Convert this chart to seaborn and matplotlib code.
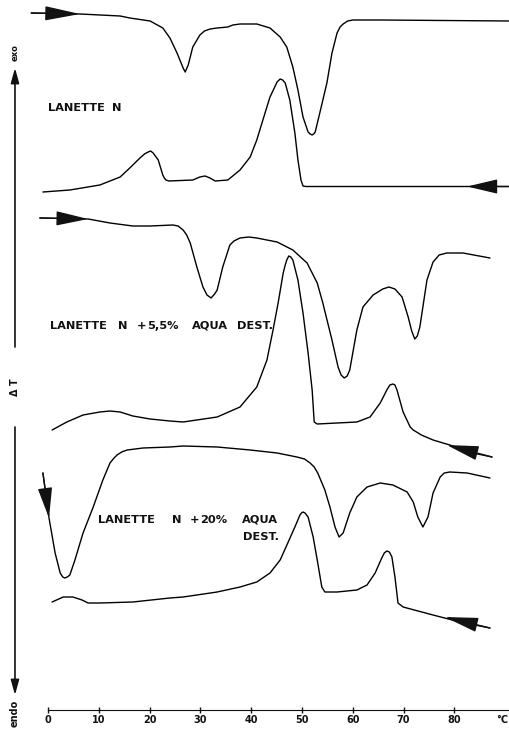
import matplotlib
matplotlib.use("Agg")
import matplotlib.pyplot as plt
import numpy as np
import pandas as pd
import seaborn as sns

# ---------------- data (temperature in degC, DeltaT in arbitrary units) ----------------
heat_n_T = [-3.3, 6.3, 14.2, 16.1, 20.1, 22.6, 24.0, 25.4, 26.6, 27.0, 27.6, 28.5, 29.9, 30.8,
            31.9, 33.3, 35.4, 36.4, 37.8, 41.1, 43.7, 45.7, 47.0, 48.2, 49.2, 50.2, 51.2, 51.6,
            52.0, 52.3, 52.6, 53.5, 54.9, 55.9, 56.9, 57.5, 58.1, 59.0, 60.0, 65.4, 90.7]
heat_n_dT = [71.8, 71.7, 71.5, 71.3, 71.0, 70.3, 69.3, 67.8, 66.3, 65.9, 66.6, 68.4, 69.6, 70.0,
             70.2, 70.3, 70.4, 70.6, 70.7, 70.7, 70.3, 69.4, 68.4, 66.4, 64.1, 61.4, 59.9, 59.7,
             59.6, 59.7, 59.9, 61.8, 64.8, 67.8, 69.8, 70.4, 70.7, 71.0, 71.1, 71.1, 71.0]

cool_n_T = [-1.0, 4.3, 10.2, 14.2, 16.1, 18.1, 19.0, 19.7, 20.2, 20.7, 21.7, 22.6, 22.9, 23.2,
            23.8, 28.5, 29.9, 30.9, 31.9, 32.9, 35.4, 37.8, 39.8, 41.1, 42.3, 43.7, 45.1, 45.5,
            45.7, 46.2, 46.7, 47.6, 48.6, 49.2, 49.8, 50.2, 50.8, 90.7]
cool_n_dT = [53.9, 54.1, 54.6, 55.4, 56.3, 57.3, 57.7, 57.9, 58.0, 57.8, 57.1, 55.6, 55.3, 55.1,
             55.0, 55.1, 55.4, 55.5, 55.3, 55.0, 55.1, 56.1, 57.4, 59.1, 61.1, 63.4, 64.9, 65.1,
             65.2, 65.1, 64.8, 63.1, 59.8, 57.1, 55.1, 54.5, 54.45, 54.45]

heat_55_T = [-1.6, 7.9, 12.2, 16.7, 20.1, 24.6, 25.6, 26.6, 27.3, 28.0, 29.3, 30.5, 31.3, 32.1,
             32.8, 33.3, 34.4, 35.8, 36.6, 37.8, 39.5, 41.1, 45.1, 48.2, 51.0, 53.0, 54.1, 55.9,
             57.1, 57.7, 58.3, 58.9, 59.4, 60.8, 62.0, 64.0, 65.9, 67.1, 68.3, 69.7, 70.9, 71.6,
             72.2, 72.7, 73.2, 74.6, 75.8, 77.0, 78.5, 81.7, 87.0]
heat_55_dT = [51.3, 51.2, 50.8, 50.5, 50.5, 50.6, 50.5, 50.1, 49.6, 48.8, 46.4, 44.4, 43.6, 43.3,
              43.7, 44.1, 46.4, 48.6, 49.0, 49.3, 49.4, 49.3, 48.9, 48.1, 46.8, 44.8, 42.8, 39.1,
              36.4, 35.6, 35.3, 35.5, 36.1, 40.1, 42.4, 43.6, 44.2, 44.4, 44.2, 43.4, 41.4, 40.0,
              39.2, 39.5, 40.4, 45.1, 46.9, 47.6, 47.8, 47.8, 47.3]

cool_55_T = [0.8, 3.7, 6.9, 10.2, 12.2, 14.2, 16.7, 20.1, 24.0, 26.6, 33.3, 37.8, 41.1, 43.1,
             44.3, 45.3, 46.3, 46.7, 47.0, 47.4, 47.8, 48.2, 49.2, 50.2, 51.2, 52.0, 52.4, 53.0,
             56.9, 60.8, 63.4, 65.4, 66.7, 67.3, 67.9, 68.3, 68.7, 69.9, 71.3, 71.9, 73.5, 75.8,
             79.1, 83.7, 87.4]
cool_55_dT = [30.1, 30.9, 31.6, 31.9, 32.0, 31.9, 31.5, 31.2, 31.0, 30.9, 31.4, 32.4, 34.4, 37.1,
              40.1, 42.8, 45.8, 46.6, 47.1, 47.5, 47.4, 47.1, 45.1, 41.8, 37.8, 34.1, 30.9, 30.7,
              30.8, 30.9, 31.4, 32.8, 34.1, 34.6, 34.7, 34.6, 34.1, 31.9, 30.4, 30.1, 29.6, 29.1,
              28.6, 27.8, 27.4]

heat_20_T = [-1.0, 0.2, 1.4, 2.4, 2.9, 3.3, 3.8, 4.3, 5.3, 6.9, 8.9, 10.8, 12.2, 13.0, 13.6,
             14.5, 15.6, 18.7, 24.0, 26.6, 33.3, 39.8, 45.1, 49.0, 50.5, 51.6, 52.4, 53.1, 54.5,
             55.5, 56.5, 57.3, 58.1, 59.4, 60.8, 62.8, 65.4, 67.9, 70.7, 71.9, 72.8, 73.8, 74.8,
             75.8, 77.2, 78.0, 79.1, 82.5, 87.0]
heat_20_dT = [25.8, 21.3, 17.8, 15.8, 15.4, 15.3, 15.4, 15.6, 17.1, 19.8, 22.4, 25.1, 26.8, 27.3,
              27.6, 27.9, 28.1, 28.3, 28.4, 28.5, 28.4, 28.1, 27.8, 27.4, 27.2, 26.8, 26.4, 25.8,
              24.1, 22.4, 20.4, 19.4, 19.8, 21.8, 23.4, 24.4, 24.8, 24.6, 23.9, 22.9, 21.4, 20.4,
              21.4, 23.8, 25.4, 25.8, 25.9, 25.8, 25.3]

cool_20_T = [0.8, 3.0, 4.9, 6.7, 7.9, 10.2, 16.7, 24.0, 26.6, 33.3, 37.8, 41.1, 43.7, 45.7, 47.2,
             48.6, 49.6, 49.9, 50.2, 50.6, 51.2, 52.2, 53.1, 53.9, 54.5, 56.9, 60.8, 62.8, 64.4,
             65.7, 66.2, 66.7, 67.2, 67.7, 68.3, 68.9, 69.9, 75.8, 81.1, 87.0]
cool_20_dT = [12.9, 13.4, 13.4, 13.1, 12.8, 12.8, 12.9, 13.3, 13.4, 13.9, 14.4, 14.9, 15.8, 17.1,
              18.8, 20.4, 21.6, 21.8, 21.9, 21.8, 21.4, 19.4, 16.8, 14.4, 13.9, 13.9, 14.1, 14.6,
              15.8, 17.3, 17.8, 18.0, 17.9, 17.4, 15.4, 12.8, 12.4, 11.6, 10.9, 10.3]

tick_values = [0, 10, 20, 30, 40, 50, 60, 70, 80]
tick_labels = ["0", "10", "20", "30", "40", "50", "60", "70", "80"]

curves = {
    "heat_n": (heat_n_T, heat_n_dT),
    "cool_n": (cool_n_T, cool_n_dT),
    "heat_55": (heat_55_T, heat_55_dT),
    "cool_55": (cool_55_T, cool_55_dT),
    "heat_20": (heat_20_T, heat_20_dT),
    "cool_20": (cool_20_T, cool_20_dT),
}
df = pd.concat(
    [pd.DataFrame({"T": t, "dT": d, "curve": k}) for k, (t, d) in curves.items()],
    ignore_index=True,
)

# ---------------- figure ----------------
sns.set_style("white")
plt.rcParams["font.family"] = ["DejaVu Sans"]

fig = plt.figure(figsize=(5.09, 7.31), dpi=100)
ax = fig.add_axes([0, 0, 1, 1])
ax.set_xlim(-9.45, 90.75)
ax.set_ylim(0, 73.1)
ax.axis("off")

sns.lineplot(data=df, x="T", y="dT", units="curve", estimator=None, sort=False,
             color="black", lw=1.0, legend=False, ax=ax)
for ln in ax.lines:
    ln.set_solid_joinstyle("round")

ink = "#111111"


def arrow(tail, tip, hl=2.2, hw=0.45, lw=1.0):
    ax.annotate("", xy=tip, xytext=tail,
                arrowprops=dict(arrowstyle=f"-|>,head_length={hl},head_width={hw}",
                                mutation_scale=10, color=ink, lw=lw,
                                shrinkA=0, shrinkB=0))


# direction arrows on the curves
arrow((heat_n_T[0], heat_n_dT[0]), (heat_n_T[1], heat_n_dT[1]))
arrow((cool_n_T[-1], cool_n_dT[-1]), (82.5, cool_n_dT[-1]), hl=1.9)
arrow((heat_55_T[0], heat_55_dT[0]), (heat_55_T[1], heat_55_dT[1]), hl=2.0)
arrow((cool_55_T[-1], cool_55_dT[-1]), (78.5, 28.6), hl=2.0)
arrow((heat_20_T[0], heat_20_dT[0]), (heat_20_T[1], heat_20_dT[1]), hl=1.9)
arrow((cool_20_T[-1], cool_20_dT[-1]), (78.1, 11.4), hl=2.1)

# left Delta-T axis (exo up, endo down)
xl = -6.5
arrow((xl, 38.4), (xl, 66.3), hl=0.9, hw=0.25, lw=1.2)
arrow((xl, 30.4), (xl, 3.6), hl=0.9, hw=0.25, lw=1.2)
tkw = dict(fontweight="bold", color=ink, rotation=90, ha="center")
ax.text(xl, 67.8, "exo", fontsize=6, va="center", **tkw)
ax.text(xl, 34.4, "Δ T", fontsize=7, va="center", **tkw)
ax.text(xl, 3.1, "endo", fontsize=7, va="top", **tkw)

# temperature axis
ax.plot([0, 90.75], [2.1, 2.1], color=ink, lw=0.8)
ax.vlines(tick_values, 1.85, 2.45, color=ink, lw=1.0)
for v, lab in zip(tick_values, tick_labels):
    ax.text(v, 0.8, lab, fontsize=7, fontweight="bold", ha="center", va="baseline", color=ink)
ax.text(90.6, 0.8, "°C", fontsize=7, fontweight="bold", ha="right", va="baseline", color=ink)

# sample labels
lkw = dict(fontsize=8.2, fontweight="bold", ha="left", va="baseline", color=ink)
ax.text(0.0, 62.0, "LANETTE", **lkw)
ax.text(12.6, 62.0, "N", **lkw)

ax.text(0.4, 40.2, "LANETTE", **lkw)
ax.text(13.8, 40.2, "N", **lkw)
ax.text(17.5, 40.2, "+", **lkw)
ax.text(19.5, 40.2, "5,5%", **lkw)
ax.text(28.3, 40.2, "AQUA", **lkw)
ax.text(37.2, 40.2, "DEST.", **lkw)

ax.text(9.8, 20.8, "LANETTE", **lkw)
ax.text(24.4, 20.8, "N", **lkw)
ax.text(28.0, 20.8, "+", **lkw)
ax.text(29.9, 20.8, "20%", **lkw)
ax.text(38.2, 20.8, "AQUA", **lkw)
ax.text(38.4, 19.1, "DEST.", **lkw)

fig.savefig("out.png", dpi=100)
